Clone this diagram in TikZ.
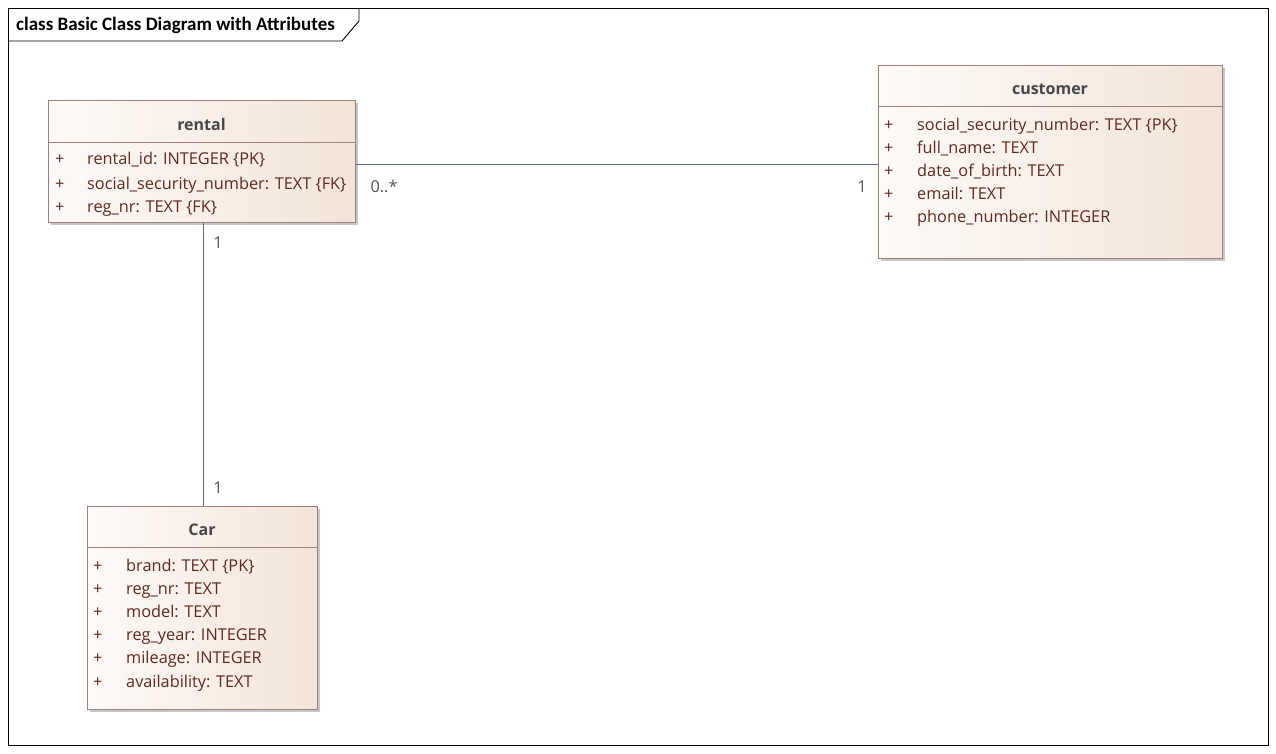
\documentclass[tikz,border=0pt]{standalone}
\usepackage{fontspec}
\setmainfont{Open Sans}
\newfontfamily\framefont{Carlito}
\usetikzlibrary{shadows,calc}
\definecolor{boxline}{HTML}{9E827A}
\definecolor{boxlight}{HTML}{FDFAF7}
\definecolor{boxdark}{HTML}{F3E4D8}
\definecolor{attrtext}{HTML}{5E2A20}
\definecolor{titletext}{HTML}{474747}
\definecolor{assoc}{HTML}{5C6A8C}
\definecolor{multtext}{HTML}{555555}
\tikzset{
  classbox/.style={draw=boxline, line width=0.9pt, rectangle, inner sep=0pt,
    shading=axis, left color=boxlight, right color=boxdark, shading angle=90,
    drop shadow={shadow xshift=3pt, shadow yshift=-3pt, fill=black!22, opacity=1}},
  classname/.style={font=\fontsize{16}{18}\selectfont\bfseries, text=titletext, anchor=base, inner sep=0pt},
  attr/.style={font=\fontsize{16.3}{18}\selectfont, text=attrtext, anchor=base west, inner sep=0pt},
  sep/.style={draw=boxline, line width=0.9pt},
  assocline/.style={draw=assoc, line width=1pt},
  mult/.style={font=\fontsize{16.3}{18}\selectfont, text=multtext, inner sep=0pt, anchor=base},
}
\begin{document}
\begin{tikzpicture}[x=1pt,y=-1pt]
\useasboundingbox (0,0) rectangle (1276,753);
\fill[white] (0,0) rectangle (1276,753);

% diagram frame with name tab
\draw[line width=0.9pt] (8,8) rectangle (1268,745);
\draw[line width=0.9pt] (8,41) -- (342,41) -- (359,21) -- (359,8);
\node[anchor=base west, inner sep=0pt, font=\framefont\fontsize{19}{21}\selectfont\bfseries] (frametitle) at (16,30) {class Basic Class Diagram with Attributes};

% class: rental
\node[classbox, minimum width=307, minimum height=122, anchor=north west] (rental) at (48,100) {};
\draw[sep] (48,142) -- (355,142);
\node[classname] (rentalname) at (201.5,130) {rental};
\node[attr] (r1p) at (55,164) {+};
\node[attr] (r1) at (87,164) {rental\_id: INTEGER \{PK\}};
\node[attr] (r2p) at (55,189) {+};
\node[attr] (r2) at (87,189) {social\_security\_number: TEXT \{FK\}};
\node[attr] (r3p) at (55,212) {+};
\node[attr] (r3) at (87,212) {reg\_nr: TEXT \{FK\}};

% class: customer
\node[classbox, minimum width=344, minimum height=193, anchor=north west] (customer) at (878,65) {};
\draw[sep] (878,106) -- (1222,106);
\node[classname] (customername) at (1050,94) {customer};
\node[attr] (c1p) at (884,130) {+};
\node[attr] (c1) at (917,130) {social\_security\_number: TEXT \{PK\}};
\node[attr] (c2p) at (884,153) {+};
\node[attr] (c2) at (917,153) {full\_name: TEXT};
\node[attr] (c3p) at (884,176) {+};
\node[attr] (c3) at (917,176) {date\_of\_birth: TEXT};
\node[attr] (c4p) at (884,199) {+};
\node[attr] (c4) at (917,199) {email: TEXT};
\node[attr] (c5p) at (884,222) {+};
\node[attr] (c5) at (917,222) {phone\_number: INTEGER};

% class: Car
\node[classbox, minimum width=230, minimum height=203, anchor=north west] (car) at (87,506) {};
\draw[sep] (87,547) -- (317,547);
\node[classname] (carname) at (202,535) {Car};
\node[attr] (a1p) at (93,571) {+};
\node[attr] (a1) at (126,571) {brand: TEXT \{PK\}};
\node[attr] (a2p) at (93,594) {+};
\node[attr] (a2) at (126,594) {reg\_nr: TEXT};
\node[attr] (a3p) at (93,617) {+};
\node[attr] (a3) at (126,617) {model: TEXT};
\node[attr] (a4p) at (93,640) {+};
\node[attr] (a4) at (126,640) {reg\_year: INTEGER};
\node[attr] (a5p) at (93,663) {+};
\node[attr] (a5) at (126,663) {mileage: INTEGER};
\node[attr] (a6p) at (93,687) {+};
\node[attr] (a6) at (126,687) {availability: TEXT};

% associations
\coordinate (rentalright) at ([yshift=-3pt]rental.east);
\draw[assocline] (rentalright) -- (rentalright -| customer.west);
\coordinate (rentalbottom) at ([xshift=1.5pt]rental.south);
\draw[assocline] (rentalbottom) -- (rentalbottom |- car.north);

% multiplicities
\node[mult] (m1) at (384,192) {0..*};
\node[mult] (m2) at (862,192) {1};
\node[mult] (m3) at (218,248) {1};
\node[mult] (m4) at (218,493) {1};
\end{tikzpicture}
\end{document}
